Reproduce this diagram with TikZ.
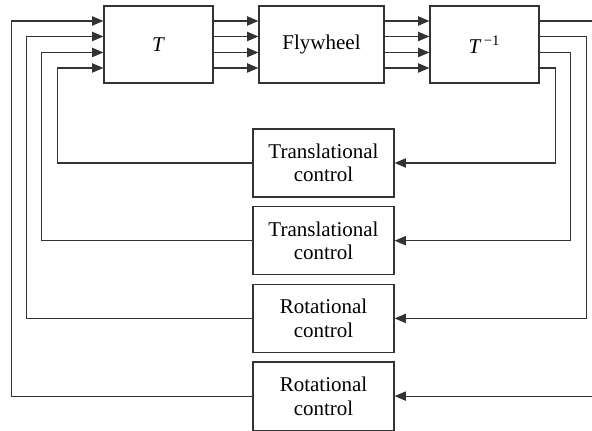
\documentclass[tikz,border=0pt]{standalone}
\usepackage{fontspec}
\setmainfont{Liberation Serif}
\usetikzlibrary{arrows.meta, positioning, calc}
\tikzstyle{arrow} = [line width=0.6pt, draw=black!80, -{Triangle[length=5.6pt,width=4.6pt]}]
\tikzstyle{block} = [rectangle, minimum width=54.5pt, minimum height=38.5pt, inner sep=0pt, text centered, line width=0.6pt, draw=black!80]
\tikzstyle{ctrl} = [rectangle, minimum width=70.5pt, minimum height=34pt, inner sep=0pt, align=center, line width=0.6pt, draw=black!80]

\begin{document}
\begin{tikzpicture}[node distance=81.5pt, font=\fontsize{10.5}{11.8}\selectfont]
\useasboundingbox (0,0) rectangle (296pt,-215.5pt);

% Forward chain
\node (T) [block] at (79.25pt,-22.25pt) {\textit{T}};
\node (fly) [block, right of=T, minimum width=62.5pt] {Flywheel};
\node (Tinv) [block, right of=fly] {\textit{T}\/\textsuperscript{\,−1}};

% Control loops
\node (trans1) [ctrl] at (161.75pt,-81.5pt) {Translational\\control};
\node (trans2) [ctrl, below of=trans1, node distance=38.85pt] {Translational\\control};
\node (rot1) [ctrl, below of=trans2, node distance=38.85pt] {Rotational\\control};
\node (rot2) [ctrl, below of=rot1, node distance=38.85pt] {Rotational\\control};

% Connections between blocks
\draw [arrow] ([yshift=11.75pt]T.east) -- ([yshift=11.75pt]fly.west);
\draw [arrow] ([yshift=4pt]T.east) -- ([yshift=4pt]fly.west);
\draw [arrow] ([yshift=-4pt]T.east) -- ([yshift=-4pt]fly.west);
\draw [arrow] ([yshift=-11.75pt]T.east) -- ([yshift=-11.75pt]fly.west);
\draw [arrow] ([yshift=11.75pt]fly.east) -- ([yshift=11.75pt]Tinv.west);
\draw [arrow] ([yshift=4pt]fly.east) -- ([yshift=4pt]Tinv.west);
\draw [arrow] ([yshift=-4pt]fly.east) -- ([yshift=-4pt]Tinv.west);
\draw [arrow] ([yshift=-11.75pt]fly.east) -- ([yshift=-11.75pt]Tinv.west);

% Corner points
\coordinate (r1) at ($(Tinv.east)+(8pt,-11.75pt)$);
\coordinate (r2) at ($(Tinv.east)+(15.5pt,-4pt)$);
\coordinate (r3) at ($(Tinv.east)+(23.5pt,4pt)$);
\coordinate (r4) at ($(Tinv.east)+(31pt,11.75pt)$);
\coordinate (l1) at ($(T.west)+(-23pt,-11.75pt)$);
\coordinate (l2) at ($(T.west)+(-31pt,-4pt)$);
\coordinate (l3) at ($(T.west)+(-38.5pt,4pt)$);
\coordinate (l4) at ($(T.west)+(-46pt,11.75pt)$);

% Feedback
\draw [arrow] ([yshift=-11.75pt]Tinv.east) -- (r1) |- (trans1.east);
\draw [arrow] ([yshift=-4pt]Tinv.east) -- (r2) |- (trans2.east);
\draw [arrow] ([yshift=4pt]Tinv.east) -- (r3) |- (rot1.east);
\draw [arrow] ([yshift=11.75pt]Tinv.east) -- (r4) |- (rot2.east);
\draw [arrow] (trans1.west) -| (l1) -- ([yshift=-11.75pt]T.west);
\draw [arrow] (trans2.west) -| (l2) -- ([yshift=-4pt]T.west);
\draw [arrow] (rot1.west) -| (l3) -- ([yshift=4pt]T.west);
\draw [arrow] (rot2.west) -| (l4) -- ([yshift=11.75pt]T.west);

\end{tikzpicture}
\end{document}
